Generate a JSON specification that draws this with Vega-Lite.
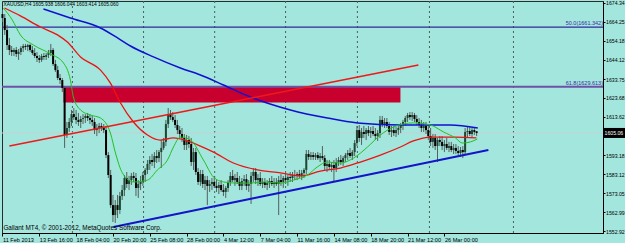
{
 "$schema": "https://vega.github.io/schema/vega-lite/v6.json",
 "width": 601, "height": 232,
 "autosize": {"type": "none"},
 "padding": {"left": 2, "top": 1, "right": 22, "bottom": 10},
 "background": "#a3e6dd",
 "config": {"view": {"stroke": "#2b2b2b", "strokeWidth": 1}, "font": "Liberation Sans", "axis": {"grid": false, "titleOpacity": 0, "labelOverlap": false, "labelSeparation": 0}},
 "datasets": {
  "bars": [
{"i":0,"o":1668.3,"h":1670.5,"l":1664.1,"c":1666.2},
{"i":1,"o":1666.2,"h":1668.3,"l":1657.2,"c":1659.8},
{"i":2,"o":1659.8,"h":1662.5,"l":1649.2,"c":1651.8},
{"i":3,"o":1651.8,"h":1655.6,"l":1646.5,"c":1649.2},
{"i":4,"o":1649.2,"h":1651.3,"l":1646.0,"c":1648.1},
{"i":5,"o":1648.1,"h":1650.2,"l":1646.0,"c":1649.2},
{"i":6,"o":1649.2,"h":1650.8,"l":1645.5,"c":1647.1},
{"i":7,"o":1647.1,"h":1649.7,"l":1643.9,"c":1648.1},
{"i":8,"o":1648.1,"h":1651.3,"l":1646.5,"c":1650.2},
{"i":9,"o":1650.2,"h":1652.4,"l":1648.1,"c":1651.3},
{"i":10,"o":1651.3,"h":1652.4,"l":1649.2,"c":1650.8},
{"i":11,"o":1650.8,"h":1652.4,"l":1648.6,"c":1651.8},
{"i":12,"o":1651.8,"h":1652.4,"l":1648.1,"c":1649.2},
{"i":13,"o":1649.2,"h":1651.3,"l":1646.5,"c":1647.6},
{"i":14,"o":1647.6,"h":1650.2,"l":1644.9,"c":1646.0},
{"i":15,"o":1646.0,"h":1648.1,"l":1642.8,"c":1644.9},
{"i":16,"o":1644.9,"h":1646.5,"l":1642.3,"c":1643.9},
{"i":17,"o":1643.9,"h":1647.1,"l":1642.8,"c":1646.0},
{"i":18,"o":1646.0,"h":1647.6,"l":1643.9,"c":1645.5},
{"i":19,"o":1645.5,"h":1647.6,"l":1643.9,"c":1646.5},
{"i":20,"o":1646.5,"h":1649.2,"l":1644.9,"c":1647.6},
{"i":21,"o":1647.6,"h":1652.4,"l":1646.0,"c":1649.2},
{"i":22,"o":1649.2,"h":1650.2,"l":1640.7,"c":1641.7},
{"i":23,"o":1641.7,"h":1643.9,"l":1637.5,"c":1638.5},
{"i":24,"o":1638.5,"h":1640.7,"l":1633.2,"c":1634.3},
{"i":25,"o":1634.3,"h":1636.4,"l":1631.1,"c":1633.2},
{"i":26,"o":1633.2,"h":1634.3,"l":1626.8,"c":1629.0},
{"i":27,"o":1629.0,"h":1630.0,"l":1597.1,"c":1604.0},
{"i":28,"o":1604.0,"h":1610.9,"l":1602.4,"c":1607.7},
{"i":29,"o":1607.7,"h":1613.0,"l":1605.6,"c":1610.9},
{"i":30,"o":1610.9,"h":1617.3,"l":1608.8,"c":1615.1},
{"i":31,"o":1615.1,"h":1618.3,"l":1612.0,"c":1613.5},
{"i":32,"o":1613.5,"h":1617.3,"l":1609.8,"c":1612.0},
{"i":33,"o":1612.0,"h":1615.7,"l":1608.8,"c":1610.9},
{"i":34,"o":1610.9,"h":1614.1,"l":1607.7,"c":1612.5},
{"i":35,"o":1612.5,"h":1615.1,"l":1609.8,"c":1613.0},
{"i":36,"o":1613.0,"h":1615.1,"l":1610.4,"c":1614.1},
{"i":37,"o":1614.1,"h":1615.7,"l":1611.4,"c":1613.0},
{"i":38,"o":1613.0,"h":1615.1,"l":1609.8,"c":1612.0},
{"i":39,"o":1612.0,"h":1614.1,"l":1608.8,"c":1610.9},
{"i":40,"o":1610.9,"h":1613.0,"l":1604.5,"c":1606.6},
{"i":41,"o":1606.6,"h":1609.8,"l":1603.4,"c":1607.7},
{"i":42,"o":1607.7,"h":1610.4,"l":1605.0,"c":1608.8},
{"i":43,"o":1608.8,"h":1610.4,"l":1606.1,"c":1607.7},
{"i":44,"o":1607.7,"h":1609.8,"l":1605.0,"c":1606.6},
{"i":45,"o":1606.6,"h":1608.8,"l":1591.7,"c":1593.3},
{"i":46,"o":1593.3,"h":1594.9,"l":1581.1,"c":1582.7},
{"i":47,"o":1582.7,"h":1585.4,"l":1565.2,"c":1566.7},
{"i":48,"o":1566.7,"h":1572.1,"l":1557.7,"c":1561.4},
{"i":49,"o":1561.4,"h":1569.4,"l":1557.2,"c":1566.7},
{"i":50,"o":1566.7,"h":1572.1,"l":1559.8,"c":1564.1},
{"i":51,"o":1564.1,"h":1573.7,"l":1562.0,"c":1571.5},
{"i":52,"o":1571.5,"h":1577.4,"l":1569.4,"c":1574.7},
{"i":53,"o":1574.7,"h":1582.7,"l":1571.5,"c":1581.1},
{"i":54,"o":1581.1,"h":1584.3,"l":1575.8,"c":1577.9},
{"i":55,"o":1577.9,"h":1582.2,"l":1574.7,"c":1580.0},
{"i":56,"o":1580.0,"h":1583.8,"l":1577.4,"c":1582.2},
{"i":57,"o":1582.2,"h":1584.3,"l":1579.0,"c":1581.1},
{"i":58,"o":1581.1,"h":1583.8,"l":1571.5,"c":1575.8},
{"i":59,"o":1575.8,"h":1580.0,"l":1570.5,"c":1577.9},
{"i":60,"o":1577.9,"h":1582.2,"l":1574.7,"c":1579.0},
{"i":61,"o":1579.0,"h":1584.3,"l":1576.9,"c":1582.7},
{"i":62,"o":1582.7,"h":1586.4,"l":1579.0,"c":1585.4},
{"i":63,"o":1585.4,"h":1590.7,"l":1583.2,"c":1588.6},
{"i":64,"o":1588.6,"h":1592.8,"l":1585.4,"c":1590.7},
{"i":65,"o":1590.7,"h":1593.9,"l":1587.5,"c":1589.6},
{"i":66,"o":1589.6,"h":1594.9,"l":1586.4,"c":1592.8},
{"i":67,"o":1592.8,"h":1596.0,"l":1589.1,"c":1591.7},
{"i":68,"o":1591.7,"h":1596.0,"l":1589.6,"c":1594.9},
{"i":69,"o":1594.9,"h":1601.3,"l":1586.4,"c":1597.1},
{"i":70,"o":1597.1,"h":1602.4,"l":1596.0,"c":1600.3},
{"i":71,"o":1600.3,"h":1612.0,"l":1598.1,"c":1609.8},
{"i":72,"o":1609.8,"h":1618.3,"l":1607.7,"c":1615.1},
{"i":73,"o":1615.1,"h":1617.3,"l":1612.0,"c":1613.5},
{"i":74,"o":1613.5,"h":1616.2,"l":1610.9,"c":1612.0},
{"i":75,"o":1612.0,"h":1614.6,"l":1607.7,"c":1609.3},
{"i":76,"o":1609.3,"h":1612.0,"l":1604.5,"c":1606.6},
{"i":77,"o":1606.6,"h":1608.8,"l":1602.4,"c":1604.5},
{"i":78,"o":1604.5,"h":1607.7,"l":1600.3,"c":1602.4},
{"i":79,"o":1602.4,"h":1604.5,"l":1596.0,"c":1598.7},
{"i":80,"o":1598.7,"h":1604.0,"l":1596.0,"c":1601.3},
{"i":81,"o":1601.3,"h":1603.4,"l":1597.1,"c":1599.2},
{"i":82,"o":1599.2,"h":1602.4,"l":1587.5,"c":1589.6},
{"i":83,"o":1589.6,"h":1597.1,"l":1585.4,"c":1594.9},
{"i":84,"o":1594.9,"h":1597.1,"l":1582.7,"c":1584.3},
{"i":85,"o":1584.3,"h":1586.4,"l":1577.4,"c":1579.0},
{"i":86,"o":1579.0,"h":1585.4,"l":1576.9,"c":1583.2},
{"i":87,"o":1583.2,"h":1585.4,"l":1575.8,"c":1577.9},
{"i":88,"o":1577.9,"h":1582.2,"l":1574.7,"c":1580.0},
{"i":89,"o":1580.0,"h":1582.2,"l":1566.7,"c":1576.9},
{"i":90,"o":1576.9,"h":1580.0,"l":1573.7,"c":1577.9},
{"i":91,"o":1577.9,"h":1581.1,"l":1574.7,"c":1579.0},
{"i":92,"o":1579.0,"h":1582.2,"l":1575.8,"c":1576.9},
{"i":93,"o":1576.9,"h":1580.0,"l":1573.7,"c":1575.8},
{"i":94,"o":1575.8,"h":1579.0,"l":1572.6,"c":1577.4},
{"i":95,"o":1577.4,"h":1580.0,"l":1573.7,"c":1574.7},
{"i":96,"o":1574.7,"h":1577.9,"l":1571.5,"c":1573.7},
{"i":97,"o":1573.7,"h":1576.9,"l":1570.5,"c":1575.8},
{"i":98,"o":1575.8,"h":1580.0,"l":1573.7,"c":1579.0},
{"i":99,"o":1579.0,"h":1584.3,"l":1576.9,"c":1582.2},
{"i":100,"o":1582.2,"h":1585.4,"l":1579.0,"c":1580.0},
{"i":101,"o":1580.0,"h":1583.2,"l":1576.9,"c":1581.1},
{"i":102,"o":1581.1,"h":1584.3,"l":1577.9,"c":1579.0},
{"i":103,"o":1579.0,"h":1582.2,"l":1574.7,"c":1576.9},
{"i":104,"o":1576.9,"h":1581.1,"l":1574.7,"c":1579.5},
{"i":105,"o":1579.5,"h":1582.7,"l":1576.9,"c":1580.5},
{"i":106,"o":1580.5,"h":1583.2,"l":1574.7,"c":1576.9},
{"i":107,"o":1576.9,"h":1580.0,"l":1573.7,"c":1577.9},
{"i":108,"o":1577.9,"h":1584.3,"l":1567.3,"c":1582.2},
{"i":109,"o":1582.2,"h":1586.4,"l":1579.0,"c":1584.3},
{"i":110,"o":1584.3,"h":1586.4,"l":1577.9,"c":1580.0},
{"i":111,"o":1580.0,"h":1583.2,"l":1576.9,"c":1581.1},
{"i":112,"o":1581.1,"h":1584.3,"l":1576.9,"c":1577.9},
{"i":113,"o":1577.9,"h":1581.1,"l":1575.8,"c":1579.0},
{"i":114,"o":1579.0,"h":1581.1,"l":1575.8,"c":1577.4},
{"i":115,"o":1577.4,"h":1580.0,"l":1574.7,"c":1578.4},
{"i":116,"o":1578.4,"h":1581.1,"l":1575.8,"c":1579.5},
{"i":117,"o":1579.5,"h":1582.2,"l":1576.9,"c":1577.9},
{"i":118,"o":1577.9,"h":1581.1,"l":1575.8,"c":1579.0},
{"i":119,"o":1579.0,"h":1581.1,"l":1576.9,"c":1577.9},
{"i":120,"o":1577.9,"h":1582.2,"l":1561.4,"c":1580.0},
{"i":121,"o":1580.0,"h":1583.2,"l":1576.9,"c":1579.0},
{"i":122,"o":1579.0,"h":1582.2,"l":1575.8,"c":1581.1},
{"i":123,"o":1581.1,"h":1583.2,"l":1577.9,"c":1580.0},
{"i":124,"o":1580.0,"h":1582.7,"l":1576.9,"c":1581.6},
{"i":125,"o":1581.6,"h":1584.3,"l":1579.0,"c":1581.1},
{"i":126,"o":1581.1,"h":1584.3,"l":1579.0,"c":1582.7},
{"i":127,"o":1582.7,"h":1585.4,"l":1580.0,"c":1582.2},
{"i":128,"o":1582.2,"h":1584.3,"l":1580.0,"c":1583.2},
{"i":129,"o":1583.2,"h":1585.4,"l":1581.1,"c":1582.2},
{"i":130,"o":1582.2,"h":1585.4,"l":1580.0,"c":1583.8},
{"i":131,"o":1583.8,"h":1586.4,"l":1581.1,"c":1585.4},
{"i":132,"o":1585.4,"h":1596.0,"l":1583.2,"c":1593.9},
{"i":133,"o":1593.9,"h":1596.0,"l":1590.7,"c":1592.3},
{"i":134,"o":1592.3,"h":1594.9,"l":1590.7,"c":1593.3},
{"i":135,"o":1593.3,"h":1594.9,"l":1590.7,"c":1592.3},
{"i":136,"o":1592.3,"h":1594.4,"l":1590.7,"c":1593.3},
{"i":137,"o":1593.3,"h":1594.9,"l":1590.7,"c":1591.7},
{"i":138,"o":1591.7,"h":1594.4,"l":1589.6,"c":1592.8},
{"i":139,"o":1592.8,"h":1598.1,"l":1590.7,"c":1591.7},
{"i":140,"o":1591.7,"h":1593.3,"l":1585.4,"c":1587.5},
{"i":141,"o":1587.5,"h":1590.7,"l":1584.3,"c":1588.6},
{"i":142,"o":1588.6,"h":1590.7,"l":1585.4,"c":1587.0},
{"i":143,"o":1587.0,"h":1589.6,"l":1584.3,"c":1588.0},
{"i":144,"o":1588.0,"h":1590.7,"l":1579.0,"c":1586.4},
{"i":145,"o":1586.4,"h":1591.7,"l":1584.3,"c":1589.6},
{"i":146,"o":1589.6,"h":1592.3,"l":1587.5,"c":1590.7},
{"i":147,"o":1590.7,"h":1593.3,"l":1588.0,"c":1589.6},
{"i":148,"o":1589.6,"h":1592.8,"l":1587.5,"c":1591.7},
{"i":149,"o":1591.7,"h":1594.4,"l":1589.6,"c":1593.3},
{"i":150,"o":1593.3,"h":1596.0,"l":1590.7,"c":1594.4},
{"i":151,"o":1594.4,"h":1597.1,"l":1591.7,"c":1592.8},
{"i":152,"o":1592.8,"h":1596.0,"l":1590.7,"c":1594.9},
{"i":153,"o":1594.9,"h":1601.3,"l":1592.8,"c":1599.7},
{"i":154,"o":1599.7,"h":1608.8,"l":1598.1,"c":1606.6},
{"i":155,"o":1606.6,"h":1609.3,"l":1600.3,"c":1602.4},
{"i":156,"o":1602.4,"h":1607.7,"l":1598.7,"c":1605.6},
{"i":157,"o":1605.6,"h":1608.8,"l":1602.4,"c":1604.5},
{"i":158,"o":1604.5,"h":1607.7,"l":1601.3,"c":1606.6},
{"i":159,"o":1606.6,"h":1608.8,"l":1603.4,"c":1605.0},
{"i":160,"o":1605.0,"h":1608.2,"l":1602.4,"c":1606.1},
{"i":161,"o":1606.1,"h":1608.8,"l":1603.4,"c":1604.5},
{"i":162,"o":1604.5,"h":1607.7,"l":1601.3,"c":1603.4},
{"i":163,"o":1603.4,"h":1606.6,"l":1600.8,"c":1605.0},
{"i":164,"o":1605.0,"h":1614.1,"l":1602.4,"c":1612.0},
{"i":165,"o":1612.0,"h":1614.1,"l":1608.2,"c":1609.8},
{"i":166,"o":1609.8,"h":1613.0,"l":1607.7,"c":1610.9},
{"i":167,"o":1610.9,"h":1613.0,"l":1607.7,"c":1608.8},
{"i":168,"o":1608.8,"h":1610.9,"l":1604.0,"c":1605.6},
{"i":169,"o":1605.6,"h":1608.8,"l":1602.9,"c":1606.6},
{"i":170,"o":1606.6,"h":1608.8,"l":1603.4,"c":1605.0},
{"i":171,"o":1605.0,"h":1608.2,"l":1602.9,"c":1606.6},
{"i":172,"o":1606.6,"h":1608.8,"l":1604.0,"c":1607.7},
{"i":173,"o":1607.7,"h":1610.4,"l":1605.0,"c":1609.3},
{"i":174,"o":1609.3,"h":1612.0,"l":1606.6,"c":1610.9},
{"i":175,"o":1610.9,"h":1614.1,"l":1608.8,"c":1613.0},
{"i":176,"o":1613.0,"h":1615.7,"l":1610.9,"c":1614.6},
{"i":177,"o":1614.6,"h":1616.2,"l":1612.0,"c":1613.5},
{"i":178,"o":1613.5,"h":1616.2,"l":1611.4,"c":1614.6},
{"i":179,"o":1614.6,"h":1615.7,"l":1610.9,"c":1612.5},
{"i":180,"o":1612.5,"h":1614.6,"l":1609.3,"c":1610.9},
{"i":181,"o":1610.9,"h":1613.0,"l":1607.7,"c":1609.3},
{"i":182,"o":1609.3,"h":1612.0,"l":1605.6,"c":1607.7},
{"i":183,"o":1607.7,"h":1610.9,"l":1605.6,"c":1608.8},
{"i":184,"o":1608.8,"h":1610.9,"l":1604.5,"c":1606.6},
{"i":185,"o":1606.6,"h":1609.8,"l":1601.3,"c":1603.4},
{"i":186,"o":1603.4,"h":1607.7,"l":1598.1,"c":1600.3},
{"i":187,"o":1600.3,"h":1604.5,"l":1597.1,"c":1602.4},
{"i":188,"o":1602.4,"h":1604.5,"l":1596.0,"c":1598.1},
{"i":189,"o":1598.1,"h":1602.4,"l":1589.6,"c":1601.3},
{"i":190,"o":1601.3,"h":1603.4,"l":1598.1,"c":1600.3},
{"i":191,"o":1600.3,"h":1603.4,"l":1596.0,"c":1598.1},
{"i":192,"o":1598.1,"h":1601.3,"l":1594.9,"c":1599.2},
{"i":193,"o":1599.2,"h":1602.4,"l":1596.0,"c":1597.1},
{"i":194,"o":1597.1,"h":1600.3,"l":1594.9,"c":1598.1},
{"i":195,"o":1598.1,"h":1600.3,"l":1594.9,"c":1596.0},
{"i":196,"o":1596.0,"h":1599.2,"l":1593.9,"c":1597.1},
{"i":197,"o":1597.1,"h":1599.2,"l":1593.9,"c":1595.5},
{"i":198,"o":1595.5,"h":1598.1,"l":1593.3,"c":1594.4},
{"i":199,"o":1594.4,"h":1597.6,"l":1592.3,"c":1596.0},
{"i":200,"o":1596.0,"h":1598.1,"l":1591.7,"c":1594.9},
{"i":201,"o":1594.9,"h":1607.7,"l":1593.3,"c":1605.6},
{"i":202,"o":1605.6,"h":1608.2,"l":1602.9,"c":1606.1},
{"i":203,"o":1606.1,"h":1608.2,"l":1603.4,"c":1604.5},
{"i":204,"o":1604.5,"h":1607.7,"l":1602.9,"c":1606.6},
{"i":205,"o":1606.6,"h":1608.2,"l":1604.0,"c":1605.6},
{"i":206,"o":1605.938,"h":1606.044,"l":1603.414,"c":1605.06}
  ],
  "ma": [
{"m":"slow","i":17.8,"p":1671.0},{"m":"slow","i":29.5,"p":1666.2},{"m":"slow","i":42.6,"p":1660.9},{"m":"slow","i":50.0,"p":1655.6},{"m":"slow","i":55.6,"p":1651.3},{"m":"slow","i":65.6,"p":1645.5},{"m":"slow","i":77.3,"p":1639.6},{"m":"slow","i":86.0,"p":1635.9},{"m":"slow","i":96.0,"p":1630.6},{"m":"slow","i":107.7,"p":1624.2},{"m":"slow","i":125.1,"p":1617.3},{"m":"slow","i":141.2,"p":1613.0},{"m":"slow","i":154.2,"p":1610.4},{"m":"slow","i":172.9,"p":1609.3},{"m":"slow","i":194.6,"p":1609.3},{"m":"slow","i":206.5,"p":1607.7},
{"m":"mid","i":0.9,"p":1671.5},{"m":"mid","i":7.8,"p":1667.3},{"m":"mid","i":16.5,"p":1661.4},{"m":"mid","i":23.9,"p":1657.2},{"m":"mid","i":28.2,"p":1653.4},{"m":"mid","i":33.9,"p":1645.5},{"m":"mid","i":42.6,"p":1638.5},{"m":"mid","i":46.9,"p":1631.6},{"m":"mid","i":51.3,"p":1621.0},{"m":"mid","i":56.9,"p":1610.9},{"m":"mid","i":63.0,"p":1604.0},{"m":"mid","i":68.6,"p":1601.3},{"m":"mid","i":74.3,"p":1602.4},{"m":"mid","i":80.4,"p":1600.8},{"m":"mid","i":86.0,"p":1598.1},{"m":"mid","i":91.7,"p":1594.9},{"m":"mid","i":100.3,"p":1589.1},{"m":"mid","i":110.8,"p":1585.4},{"m":"mid","i":120.8,"p":1583.8},{"m":"mid","i":129.5,"p":1582.2},{"m":"mid","i":138.1,"p":1584.8},{"m":"mid","i":146.8,"p":1586.4},{"m":"mid","i":155.5,"p":1589.6},{"m":"mid","i":164.2,"p":1593.3},{"m":"mid","i":172.9,"p":1597.6},{"m":"mid","i":178.5,"p":1600.8},{"m":"mid","i":185.9,"p":1602.9},{"m":"mid","i":196.8,"p":1602.9},{"m":"mid","i":205.9,"p":1602.4},
{"m":"fast","i":0.4,"p":1671.5},{"m":"fast","i":4.3,"p":1665.1},{"m":"fast","i":7.8,"p":1657.2},{"m":"fast","i":13.5,"p":1651.8},{"m":"fast","i":20.9,"p":1647.1},{"m":"fast","i":26.5,"p":1642.3},{"m":"fast","i":29.5,"p":1633.2},{"m":"fast","i":30.8,"p":1624.2},{"m":"fast","i":33.9,"p":1617.3},{"m":"fast","i":38.2,"p":1614.6},{"m":"fast","i":42.6,"p":1613.0},{"m":"fast","i":46.9,"p":1605.0},{"m":"fast","i":49.1,"p":1594.4},{"m":"fast","i":52.1,"p":1583.8},{"m":"fast","i":56.9,"p":1579.0},{"m":"fast","i":63.0,"p":1580.0},{"m":"fast","i":67.3,"p":1585.4},{"m":"fast","i":71.7,"p":1590.7},{"m":"fast","i":74.3,"p":1597.6},{"m":"fast","i":77.3,"p":1602.9},{"m":"fast","i":81.7,"p":1601.3},{"m":"fast","i":87.3,"p":1590.7},{"m":"fast","i":91.7,"p":1581.6},{"m":"fast","i":96.0,"p":1579.0},{"m":"fast","i":102.1,"p":1578.4},{"m":"fast","i":107.7,"p":1578.4},{"m":"fast","i":113.4,"p":1579.0},{"m":"fast","i":120.8,"p":1578.4},{"m":"fast","i":126.4,"p":1580.0},{"m":"fast","i":132.5,"p":1582.7},{"m":"fast","i":136.8,"p":1587.0},{"m":"fast","i":141.2,"p":1589.6},{"m":"fast","i":146.8,"p":1589.1},{"m":"fast","i":152.5,"p":1591.7},{"m":"fast","i":158.6,"p":1597.6},{"m":"fast","i":164.2,"p":1604.0},{"m":"fast","i":169.9,"p":1608.2},{"m":"fast","i":178.5,"p":1610.4},{"m":"fast","i":185.9,"p":1609.3},{"m":"fast","i":191.6,"p":1605.6},{"m":"fast","i":196.8,"p":1602.4},{"m":"fast","i":199.8,"p":1599.7},{"m":"fast","i":203.3,"p":1600.3},{"m":"fast","i":206.3,"p":1601.8}
  ],
  "trend": [
{"t":"red","i":3.0,"p":1598.1},{"t":"red","i":180.7,"p":1641.2},
{"t":"blue","i":48.2,"p":1555.0},{"t":"blue","i":211.1,"p":1596.0}
  ],
  "grid": [{"i":30.4},{"i":61.3},{"i":92.2},{"i":123.0},{"i":154.2},{"i":185.5},{"i":222.0}],
  "fib": [{"p":1661.342,"lab":"50.0(1661.342)","lvl":"50"},{"p":1629.613,"lab":"61.8(1629.613)","lvl":"61.8"}],
  "zone": [{"i1":26.5,"i2":172.9,"p1":1629.613,"p2":1621.2}],
  "price": [{"p":1605.06,"t":"1605.06"}]
 },
 "layer": [
  {"data": {"name": "grid"}, "mark": {"type": "rule", "color": "#4d5d5a", "strokeWidth": 1, "strokeDash": [2, 3]},
   "encoding": {"x": {"field": "i", "type": "quantitative", "scale": {"domain": [-0.2, 260.9], "nice": false, "zero": false}}}},
  {"data": {"name": "zone"}, "mark": {"type": "rect", "color": "#c8002e", "opacity": 1},
   "encoding": {"x": {"field": "i1", "type": "quantitative", "scale": {"domain": [-0.2, 260.9], "nice": false, "zero": false}},
    "x2": {"field": "i2"},
    "y": {"field": "p1", "type": "quantitative", "scale": {"domain": [1551.86, 1675.24], "nice": false, "zero": false}},
    "y2": {"field": "p2"}}},
  {"data": {"name": "fib"}, "mark": {"type": "rule"},
   "encoding": {"y": {"field": "p", "type": "quantitative", "scale": {"domain": [1551.86, 1675.24], "nice": false, "zero": false}},
    "color": {"condition": {"test": "datum.lvl == '61.8'", "value": "#6e52a6"}, "value": "#32289a"},
    "strokeWidth": {"condition": {"test": "datum.lvl == '61.8'", "value": 2}, "value": 1.3}}},
  {"data": {"name": "fib"}, "mark": {"type": "text", "align": "right", "baseline": "bottom", "dy": -1, "fontSize": 5.5, "color": "#3c2ea0"},
   "encoding": {"x": {"datum": 260.9, "type": "quantitative", "scale": {"domain": [-0.2, 260.9], "nice": false, "zero": false}},
    "y": {"field": "p", "type": "quantitative", "scale": {"domain": [1551.86, 1675.24], "nice": false, "zero": false}},
    "text": {"field": "lab"}}},
  {"data": {"name": "price"}, "mark": {"type": "rule", "color": "#c2d2d0", "strokeWidth": 1},
   "encoding": {"y": {"field": "p", "type": "quantitative", "scale": {"domain": [1551.86, 1675.24], "nice": false, "zero": false}}}},
  {"data": {"name": "bars"}, "mark": {"type": "rule", "strokeWidth": 1, "color": "#55605c"},
   "encoding": {"x": {"field": "i", "type": "quantitative", "scale": {"domain": [-0.2, 260.9], "nice": false, "zero": false},
     "axis": {"orient": "bottom", "values": [0,16,32,48,64,80,96,112,128,144,160,176,192], "tickCount": 40, "labelExpr": "['11 Feb 2013','13 Feb 16:00','18 Feb 04:00','20 Feb 20:00','25 Feb 08:00','28 Feb 00:00','4 Mar 12:00','7 Mar 04:00','11 Mar 16:00','14 Mar 08:00','18 Mar 20:00','21 Mar 12:00','26 Mar 00:00'][round(datum.value/16)]", "labelAlign": "left", "labelBaseline": "top", "labelPadding": 1, "labelFontSize": 5.6, "labelColor": "#000", "tickSize": 3, "tickColor": "#000", "domainColor": "#000", "grid": false, "title": null, "labelOverlap": false, "labelBound": false, "labelFlush": false}},
    "y": {"field": "l", "type": "quantitative", "scale": {"domain": [1551.86, 1675.24], "nice": false, "zero": false},
     "axis": {"orient": "right", "values": [1674.34, 1664.25, 1654.18, 1644.12, 1633.75, 1623.68, 1613.62, 1593.18, 1583.12, 1573.05, 1562.99, 1552.92], "tickCount": 40, "format": ".2f", "labelFontSize": 5.2, "labelColor": "#000", "labelPadding": 0.5, "tickSize": 2, "tickColor": "#000", "domainColor": "#000", "grid": false, "title": null, "labelOverlap": false, "labelSeparation": 0, "labelFlush": false, "labelBound": false}},
    "y2": {"field": "h"}}},
  {"data": {"name": "bars"}, "mark": {"type": "rule", "strokeWidth": 2},
   "encoding": {"x": {"field": "i", "type": "quantitative", "scale": {"domain": [-0.2, 260.9], "nice": false, "zero": false}},
    "y": {"field": "o", "type": "quantitative", "scale": {"domain": [1551.86, 1675.24], "nice": false, "zero": false}},
    "y2": {"field": "c"},
    "color": {"condition": {"test": "datum.c >= datum.o", "value": "#1e4630"}, "value": "#000000"}}},
  {"data": {"name": "ma"}, "mark": {"type": "line", "clip": true, "interpolate": "monotone"},
   "encoding": {"x": {"field": "i", "type": "quantitative", "scale": {"domain": [-0.2, 260.9], "nice": false, "zero": false}},
    "y": {"field": "p", "type": "quantitative", "scale": {"domain": [1551.86, 1675.24], "nice": false, "zero": false}},
    "detail": {"field": "m"},
    "color": {"condition": [{"test": "datum.m == 'slow'", "value": "#1010d0"}, {"test": "datum.m == 'mid'", "value": "#ee1111"}], "value": "#22c022"},
    "strokeWidth": {"condition": [{"test": "datum.m == 'slow'", "value": 1.5}, {"test": "datum.m == 'mid'", "value": 1.3}], "value": 1}}},
  {"data": {"name": "trend"}, "mark": {"type": "line", "clip": true},
   "encoding": {"x": {"field": "i", "type": "quantitative", "scale": {"domain": [-0.2, 260.9], "nice": false, "zero": false}},
    "y": {"field": "p", "type": "quantitative", "scale": {"domain": [1551.86, 1675.24], "nice": false, "zero": false}},
    "detail": {"field": "t"},
    "color": {"condition": {"test": "datum.t == 'red'", "value": "#f01818"}, "value": "#1414c8"},
    "strokeWidth": {"condition": {"test": "datum.t == 'red'", "value": 1.4}, "value": 2}}},
  {"data": {"name": "price"}, "mark": {"type": "rule", "color": "#000", "strokeWidth": 10},
   "encoding": {"x": {"datum": 261.0, "type": "quantitative", "scale": {"domain": [-0.2, 260.9], "nice": false, "zero": false}},
    "x2": {"datum": 272},
    "y": {"field": "p", "type": "quantitative", "scale": {"domain": [1551.86, 1675.24], "nice": false, "zero": false}}}},
  {"data": {"name": "price"}, "mark": {"type": "text", "align": "left", "baseline": "middle", "dx": 1.5, "fontSize": 5.2, "color": "#fff"},
   "encoding": {"x": {"datum": 260.9, "type": "quantitative", "scale": {"domain": [-0.2, 260.9], "nice": false, "zero": false}},
    "y": {"field": "p", "type": "quantitative", "scale": {"domain": [1551.86, 1675.24], "nice": false, "zero": false}},
    "text": {"field": "t"}}},
  {"data": {"values": [{"t": "XAUUSD,H4  1605.938 1606.044 1603.414 1605.060", "i": 0.4, "p": 1673.1, "s": 4.9}, {"t": "Gallant MT4, © 2001-2012, MetaQuotes Software Corp.", "i": 0.4, "p": 1554.5, "s": 6.4}]},
   "mark": {"type": "text", "align": "left", "baseline": "middle", "color": "#000"},
   "encoding": {"x": {"field": "i", "type": "quantitative", "scale": {"domain": [-0.2, 260.9], "nice": false, "zero": false}},
    "y": {"field": "p", "type": "quantitative", "scale": {"domain": [1551.86, 1675.24], "nice": false, "zero": false}},
    "size": {"condition": {"test": "datum.s < 5.5", "value": 4.9}, "value": 6.4},
    "text": {"field": "t"}}}
 ]
}
